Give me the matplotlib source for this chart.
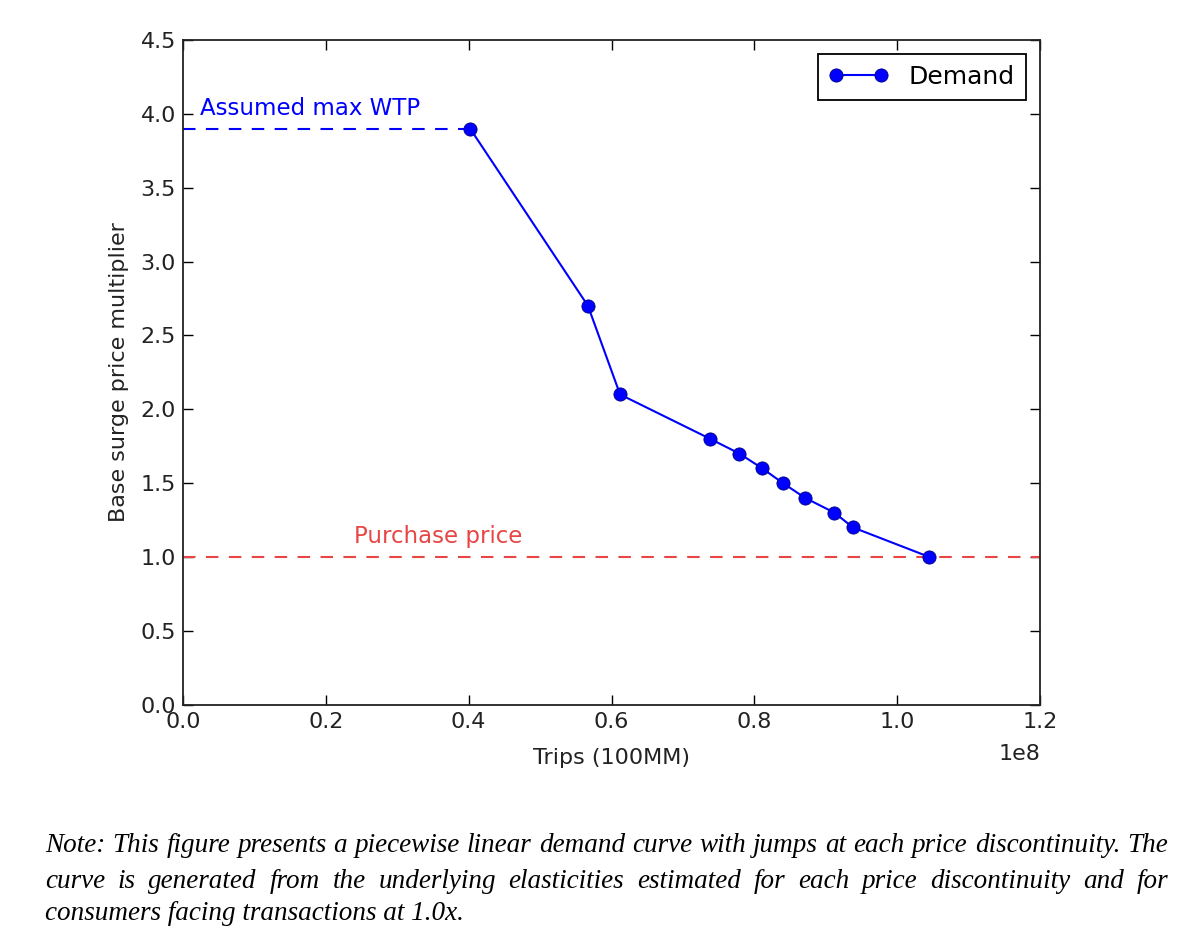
import numpy as np
import matplotlib
matplotlib.use("Agg")
import matplotlib.pyplot as plt
from matplotlib.transforms import ScaledTranslation

# Demand curve points (trips, base surge multiplier)
trips = [0.402e8, 0.567e8, 0.612e8, 0.738e8, 0.779e8, 0.811e8,
         0.840e8, 0.871e8, 0.912e8, 0.938e8, 1.045e8]
surge = [3.9, 2.7, 2.1, 1.8, 1.7, 1.6, 1.5, 1.4, 1.3, 1.2, 1.0]

max_wtp = 3.9
purchase_price = 1.0

note_lines = [
    "Note: This figure presents a piecewise linear demand curve with jumps at each price discontinuity. The",
    "curve is generated from the underlying elasticities estimated for each price discontinuity and for",
    "consumers facing transactions at 1.0x.",
]

fig = plt.figure(figsize=(12, 9.51), dpi=100)
ax = fig.add_axes([0.1525, 0.259, 0.7142, 0.699])

blue = "#0000ff"
red = "#e84545"

ax.plot(trips, surge, "-o", color=blue, lw=1.5, ms=9.5, mec="#000080", mew=0.6,
        label="Demand", zorder=3)
ax.plot([0, trips[0]], [max_wtp, max_wtp], "--", color=blue, lw=1.5,
        dashes=(6, 5), zorder=2)
ax.axhline(purchase_price, ls="--", color=red, lw=1.5, dashes=(6, 5), zorder=2)

ax.text(0.024e8, 3.96, "Assumed max WTP", color=blue, fontsize=16.5, va="bottom")
ax.text(0.24e8, 1.06, "Purchase price", color=red, fontsize=16.5, va="bottom")

ax.set_xlim(0, 1.2e8)
ax.set_ylim(0, 4.5)
ax.set_xticks(np.arange(0, 1.21e8, 0.2e8))
ax.set_yticks(np.arange(0, 4.51, 0.5))
ax.ticklabel_format(axis="x", style="sci", scilimits=(0, 0))
off = ax.xaxis.get_offset_text()
off.set_fontsize(16)
off.set_color("#222222")
off.set_transform(off.get_transform() + ScaledTranslation(0, -0.08, fig.dpi_scale_trans))

ax.tick_params(direction="in", length=7, width=1, top=True, right=True,
               labelsize=16, labelcolor="#222222", pad=5)
for s in ax.spines.values():
    s.set_linewidth(1.3)
    s.set_color("#222222")

ax.set_xlabel("Trips (100MM)", fontsize=16, color="#222222", labelpad=12)
ax.set_ylabel("Base surge price multiplier", fontsize=16, color="#222222",
              labelpad=8)

leg = ax.legend(loc="upper right", fontsize=18, numpoints=2, fancybox=False,
                framealpha=1, borderpad=0.45, handlelength=2.4,
                borderaxespad=0.55)
leg.get_frame().set_edgecolor("black")
leg.get_frame().set_linewidth(1.3)

# Justified italic serif note below the chart
fig.canvas.draw()
renderer = fig.canvas.get_renderer()
left_px, right_px = 45, 1168
line_y = [845, 881, 914]
for i, line in enumerate(note_lines):
    y = 1 - line_y[i] / 951
    words = line.split(" ")
    if i == len(note_lines) - 1:
        fig.text(left_px / 1200, y, line, fontsize=19.5, family="Liberation Serif",
                 style="italic", va="center")
        continue
    texts = []
    widths = []
    for w in words:
        t = fig.text(0, y, w, fontsize=19.5, family="Liberation Serif",
                     style="italic", va="center")
        widths.append(t.get_window_extent(renderer).width)
        texts.append(t)
    gap = (right_px - left_px - sum(widths)) / (len(words) - 1)
    x = left_px
    for t, wd in zip(texts, widths):
        t.set_x(x / 1200)
        x += wd + gap

fig.savefig("out.png", dpi=100)
